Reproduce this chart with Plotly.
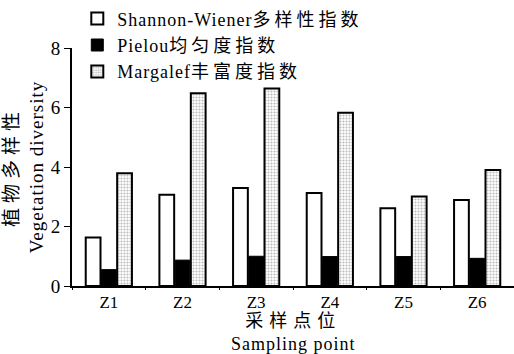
import plotly.graph_objects as go

categories = ["Z1", "Z2", "Z3", "Z4", "Z5", "Z6"]
shannon = [1.63, 3.07, 3.29, 3.13, 2.61, 2.89]
pielou = [0.55, 0.87, 1.00, 0.99, 0.99, 0.93]
margalef = [3.79, 6.48, 6.64, 5.82, 3.01, 3.90]
yticks = [0, 2, 4, 6, 8]

FONT = "Liberation Serif, Noto Sans CJK SC, serif"


def sp(text, px):
    return "<span style='letter-spacing:%spx'>%s</span>" % (px, text)


fig = go.Figure()
fig.add_trace(go.Bar(
    x=categories, y=shannon, name=sp("Shannon-Wiener", 1) + sp("多样性指数", 4),
    marker=dict(color="white", line=dict(color="black", width=2)),
))
fig.add_trace(go.Bar(
    x=categories, y=pielou, name=sp("Pielou", 1) + sp("均匀度指数", 4),
    marker=dict(color="black", line=dict(color="black", width=1)),
))
fig.add_trace(go.Bar(
    x=categories, y=margalef, name=sp("Margalef", 1) + sp("丰富度指数", 4),
    marker=dict(color="white", line=dict(color="black", width=2),
                pattern=dict(shape=".", size=3, solidity=0.4,
                             fgcolor="#777777", bgcolor="white")),
))

fig.update_layout(
    width=514, height=354,
    margin=dict(l=72, r=0, t=48, b=68),
    paper_bgcolor="white", plot_bgcolor="white",
    barmode="group", bargap=0.36, bargroupgap=0.06,
    font=dict(family=FONT, size=18, color="black"),
    showlegend=True,
    legend=dict(x=0.012, y=1.20, xanchor="left", yanchor="top",
                bgcolor="rgba(0,0,0,0)", font=dict(size=18, family=FONT),
                tracegroupgap=0, itemwidth=30),
    xaxis=dict(
        range=[-0.5, 5.5], showline=True, linecolor="black", linewidth=2,
        ticks="outside", ticklen=2, tickcolor="black", tickson="boundaries",
        tickfont=dict(size=17, family=FONT),
    ),
    yaxis=dict(
        range=[0, 8], tickvals=yticks, showline=True, linecolor="black",
        linewidth=2, ticks="outside", ticklen=6, tickcolor="black",
        showgrid=False, zeroline=False,
        tickfont=dict(size=19, family=FONT),
        title=dict(text=sp("植物多样性", 5) + "<br>" + sp("Vegetation diversity", 1),
                   standoff=2, font=dict(size=19, family=FONT)),
    ),
    annotations=[
        dict(text=sp("采样点位", 6) + "<br>" + sp("Sampling point", 1),
             xref="paper", yref="paper",
             x=0.5, y=-0.195, xanchor="center", yanchor="middle",
             showarrow=False, font=dict(size=18, family=FONT)),
    ],
)

fig.write_html("out.html")
